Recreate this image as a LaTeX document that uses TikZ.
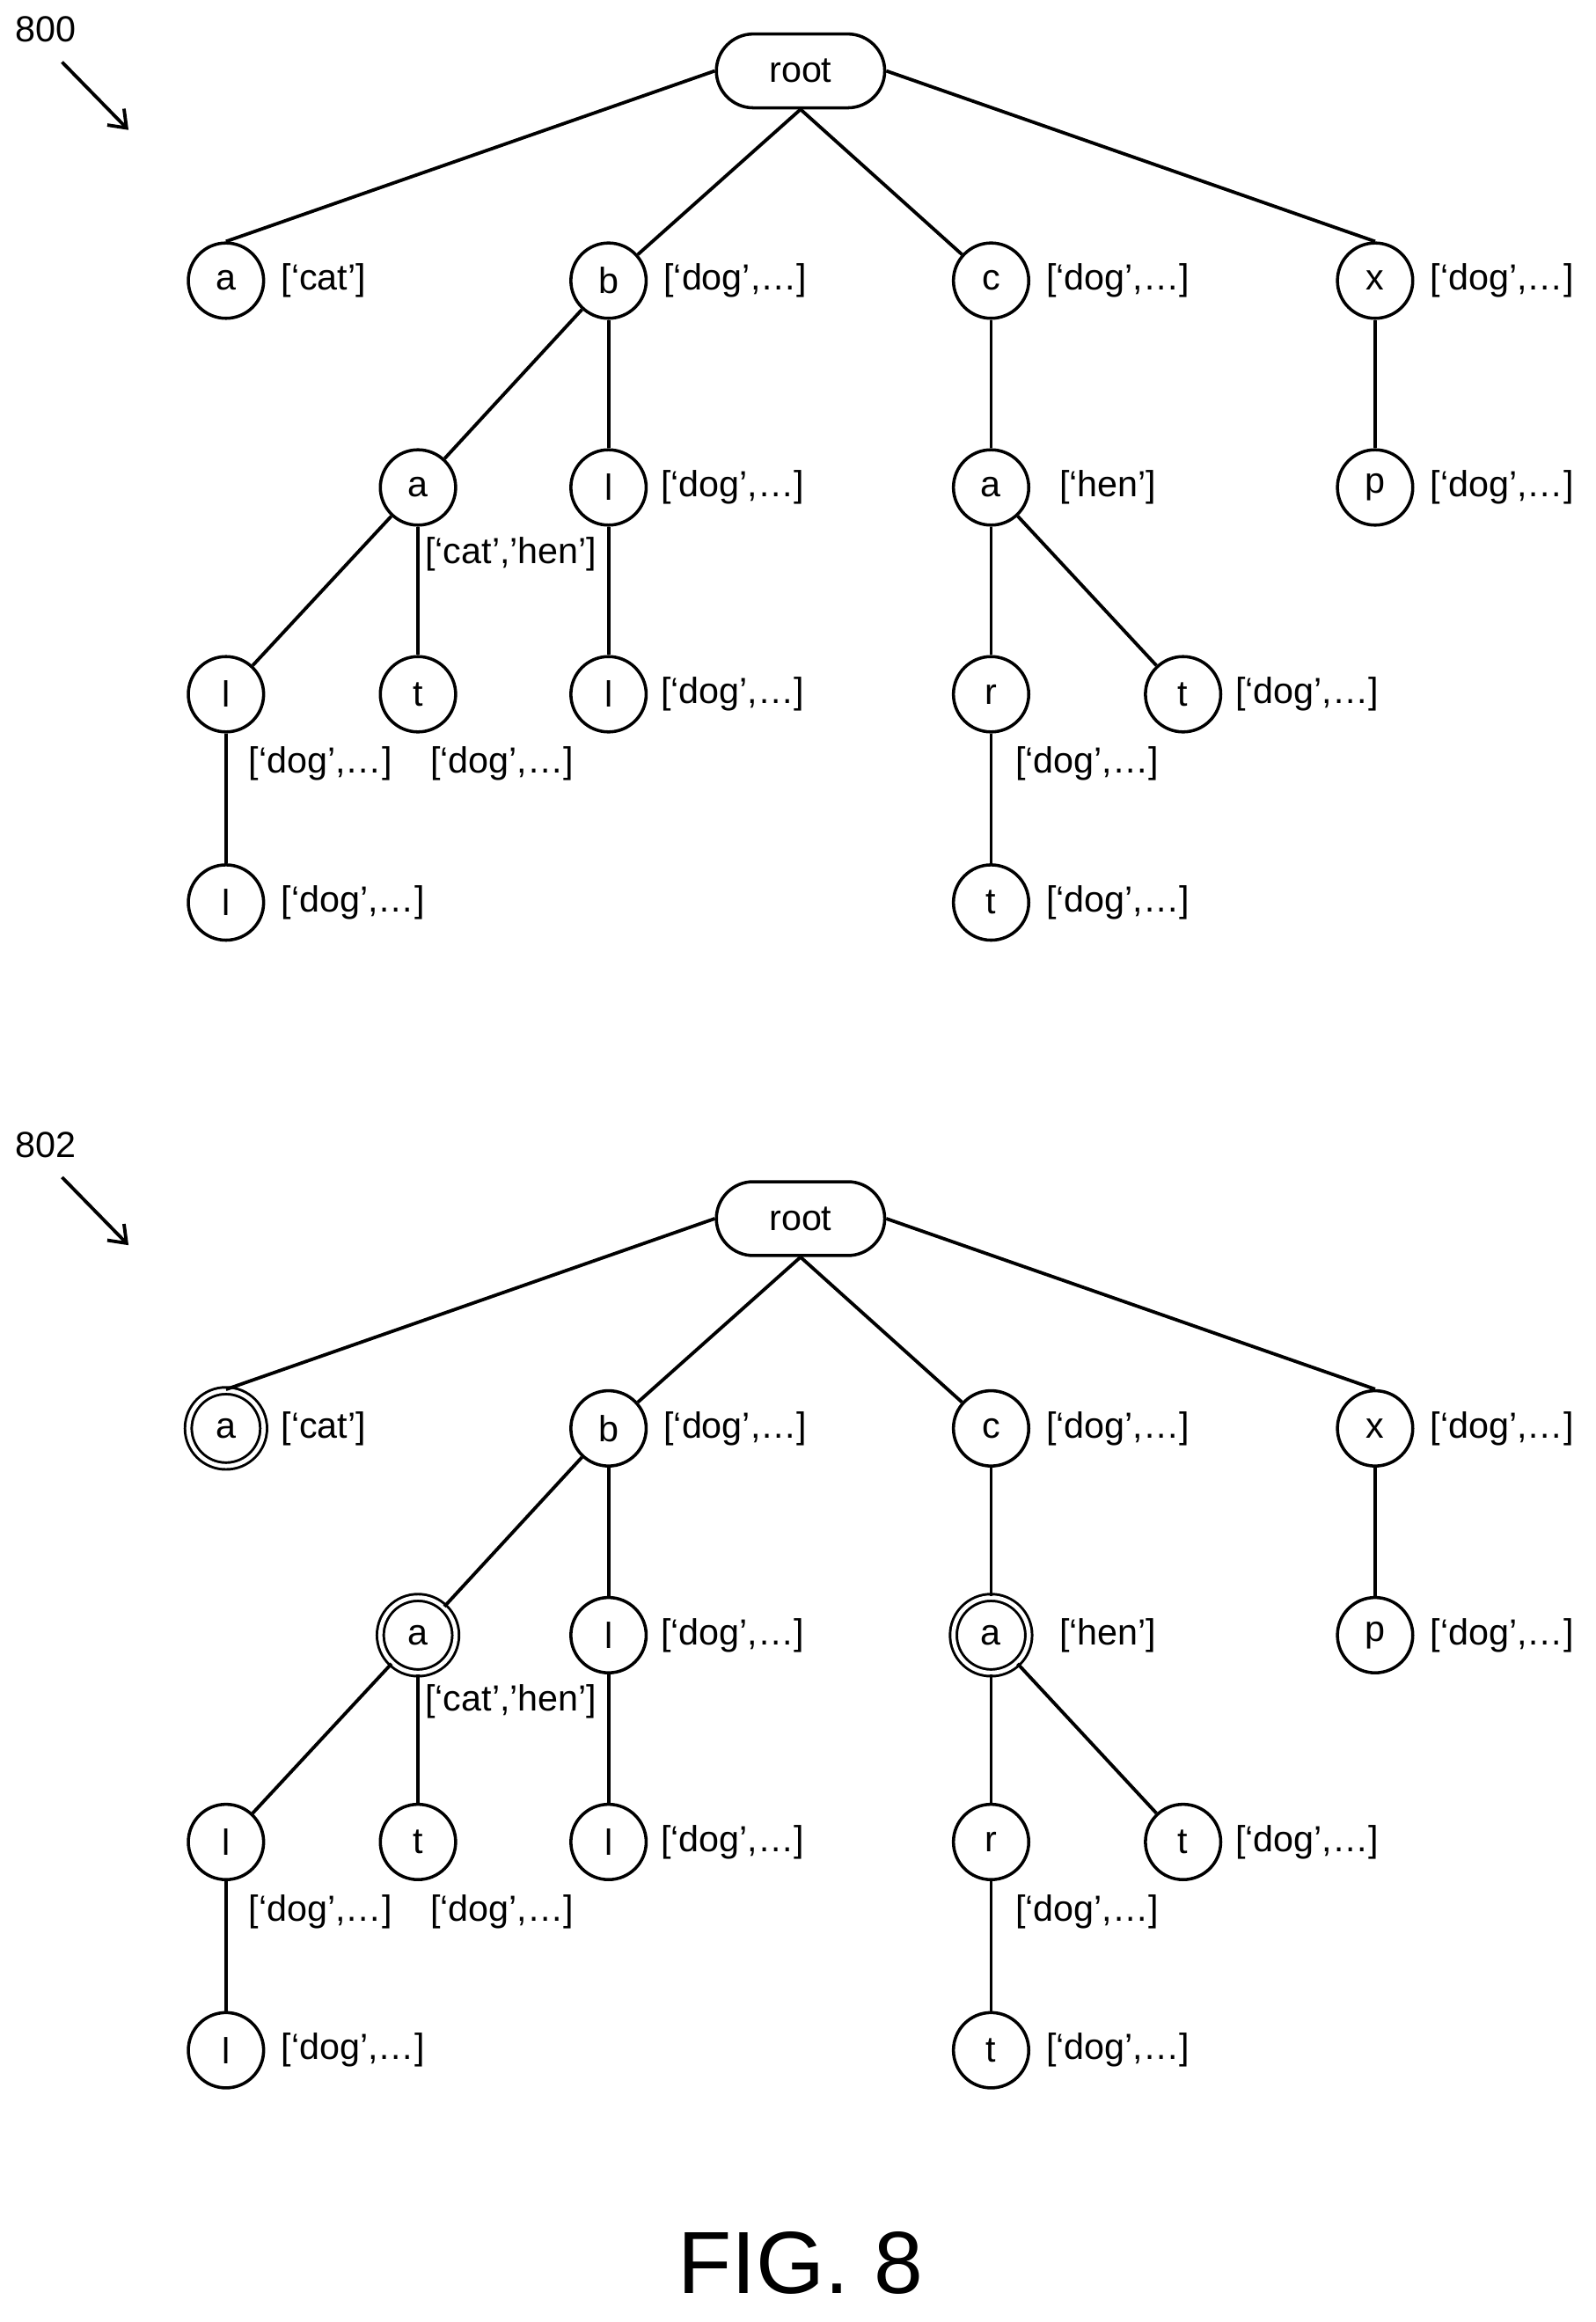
\documentclass[tikz,border=0pt]{standalone}
\usepackage{fontspec}
\setmainfont{Liberation Sans}
\usetikzlibrary{shapes.geometric}
\tikzset{
  letter/.style = {circle, draw=black, line width=1.2pt, minimum size=1.02cm, inner sep=0pt, font=\fontsize{14}{16}\selectfont},
  rootnode/.style = {rectangle, rounded corners=0.5cm, draw=black, line width=1.2pt, minimum width=2.28cm, minimum height=1cm, font=\fontsize{14}{16}\selectfont},
  final/.style = {double, double distance=1.6pt, line width=1pt},
  plain/.style = {},
  words/.style = {font=\fontsize{14}{16}\selectfont, inner sep=0pt},
  edge/.style = {line width=1.3pt},
  refarrow/.style = {line width=1.3pt, -{Straight Barb[length=6pt,width=9pt]}}
}
\usetikzlibrary{arrows.meta}
% one trie; #1 name prefix, #2 vertical offset, #3 style of marked nodes
\newcommand{\trie}[3]{
  \begin{scope}[shift={(0,#2)}]
    \node (#1root) [rootnode] at (542,48) {root};
    \node (#1a) [letter,#3] at (153,190) {a};
    \node (#1b) [letter] at (412,190) {b};
    \node (#1c) [letter] at (671,190) {c};
    \node (#1x) [letter] at (931,190) {x};
    \node (#1ba) [letter,#3] at (283,330) {a};
    \node (#1bl) [letter] at (412,330) {l};
    \node (#1ca) [letter,#3] at (671,330) {a};
    \node (#1xp) [letter] at (931,330) {p};
    \node (#1bal) [letter] at (153,470) {l};
    \node (#1bat) [letter] at (283,470) {t};
    \node (#1bll) [letter] at (412,470) {l};
    \node (#1car) [letter] at (671,470) {r};
    \node (#1cat) [letter] at (801,470) {t};
    \node (#1ball) [letter] at (153,611) {l};
    \node (#1cart) [letter] at (671,611) {t};
    % word lists
    \node [words, anchor=west] at (190,190) {[‘cat’]};
    \node [words, anchor=west] at (449,190) {[‘dog’,…]};
    \node [words, anchor=west] at (708,190) {[‘dog’,…]};
    \node [words, anchor=west] at (968,190) {[‘dog’,…]};
    \node [words] at (346,375) {[‘cat’,’hen’]};
    \node [words, anchor=west] at (447,330) {[‘dog’,…]};
    \node [words, anchor=west] at (717,330) {[‘hen’]};
    \node [words, anchor=west] at (968,330) {[‘dog’,…]};
    \node [words] at (217,517) {[‘dog’,…]};
    \node [words] at (340,517) {[‘dog’,…]};
    \node [words, anchor=west] at (447,470) {[‘dog’,…]};
    \node [words] at (736,517) {[‘dog’,…]};
    \node [words, anchor=west] at (836,470) {[‘dog’,…]};
    \node [words, anchor=west] at (190,611) {[‘dog’,…]};
    \node [words, anchor=west] at (708,611) {[‘dog’,…]};
    % edges
    \draw [edge] (#1root.west) -- (#1a.north);
    \draw [edge] (#1root.south) -- (#1b);
    \draw [edge] (#1root.south) -- (#1c);
    \draw [edge] (#1root.east) -- (#1x.north);
    \draw [edge] (#1b) -- (#1ba);
    \draw [edge] (#1b) -- (#1bl);
    \draw [edge] (#1c) -- (#1ca);
    \draw [edge] (#1x) -- (#1xp);
    \draw [edge] (#1ba) -- (#1bal);
    \draw [edge] (#1ba) -- (#1bat);
    \draw [edge] (#1bl) -- (#1bll);
    \draw [edge] (#1ca) -- (#1car);
    \draw [edge] (#1ca) -- (#1cat);
    \draw [edge] (#1bal) -- (#1ball);
    \draw [edge] (#1car) -- (#1cart);
  \end{scope}
}
\begin{document}
\begin{tikzpicture}[x=0.02cm, y=-0.02cm]
  \useasboundingbox (0,0) rectangle (1080,1572);
  \node (n800) [words] at (31,20) {800};
  \coordinate (t800) at (87,88);
  \draw [refarrow] (42,42) -- (t800);
  \trie{u}{0}{plain}
  \node (n802) [words] at (31,775) {802};
  \coordinate (t802) at (87,843);
  \draw [refarrow] (42,797) -- (t802);
  \trie{l}{777}{final}
  \node (fig) [font=\fontsize{34}{40}\selectfont] at (542,1532) {FIG. 8};
\end{tikzpicture}
\end{document}
